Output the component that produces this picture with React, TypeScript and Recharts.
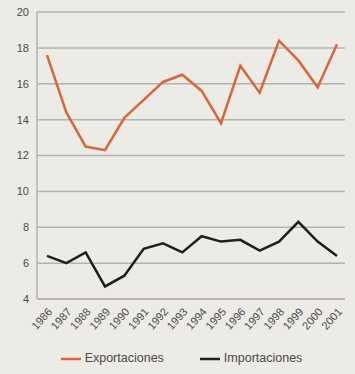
import { CartesianGrid, Legend, Line, LineChart, XAxis, YAxis } from "recharts";

const years = [
  "1986", "1987", "1988", "1989", "1990", "1991", "1992", "1993",
  "1994", "1995", "1996", "1997", "1998", "1999", "2000", "2001",
];
const exportaciones = [17.6, 14.4, 12.5, 12.3, 14.1, 15.1, 16.1, 16.5, 15.6, 13.8, 17.0, 15.5, 18.4, 17.3, 15.8, 18.2];
const importaciones = [6.4, 6.0, 6.6, 4.7, 5.3, 6.8, 7.1, 6.6, 7.5, 7.2, 7.3, 6.7, 7.2, 8.3, 7.2, 6.4];
const yTicks = [4, 6, 8, 10, 12, 14, 16, 18, 20];

const data = years.map((year, i) => ({
  year,
  Exportaciones: exportaciones[i],
  Importaciones: importaciones[i],
}));

const font = "'Liberation Sans', Arial, sans-serif";

export default function App() {
  return (
    <div
      style={{
        position: "fixed",
        top: 0,
        left: 0,
        width: 355,
        height: 374,
        background: "#ecebe6",
        fontFamily: font,
      }}
    >
      <LineChart width={355} height={374} data={data} margin={{ top: 12, right: 10, bottom: 5, left: 0 }}>
        <CartesianGrid vertical={false} stroke="#b4b2ad" strokeWidth={1.5} yAxisId="left" />
        <XAxis
          dataKey="year"
          padding={{ left: 10, right: 8 }}
          interval={0}
          tickLine={false}
          stroke="#b4b2ad"
          strokeWidth={1.5}
          height={50}
          angle={-48}
          textAnchor="end"
          tick={{ fontSize: 11, fill: "#4a4a4a", fontFamily: font }}
        />
        <YAxis
          yAxisId="left"
          domain={[4, 20]}
          ticks={yTicks}
          width={37}
          tickLine={false}
          stroke="#b4b2ad"
          strokeWidth={1.5}
          tick={{ fontSize: 11, fill: "#4a4a4a", fontFamily: font }}
        />
        <YAxis yAxisId="right" orientation="right" width={0} tick={false} tickLine={false} stroke="#b4b2ad" strokeWidth={1.5} domain={[4, 20]} />
        <Legend
          verticalAlign="bottom"
          iconType="plainline"
          iconSize={20}
          wrapperStyle={{ fontSize: 12.5, color: "#4a4a4a", fontFamily: font, paddingLeft: 14 }}
          formatter={(value, _entry, index) => (
            <span style={{ color: "#4a4a4a", marginRight: index === 0 ? 26 : 0 }}>{value}</span>
          )}
        />
        <Line
          yAxisId="left"
          type="linear"
          dataKey="Exportaciones"
          stroke="#d5683b"
          strokeWidth={2.5}
          dot={false}
          isAnimationActive={false}
        />
        <Line
          yAxisId="left"
          type="linear"
          dataKey="Importaciones"
          stroke="#1f1f1f"
          strokeWidth={2.5}
          dot={false}
          isAnimationActive={false}
        />
      </LineChart>
    </div>
  );
}
